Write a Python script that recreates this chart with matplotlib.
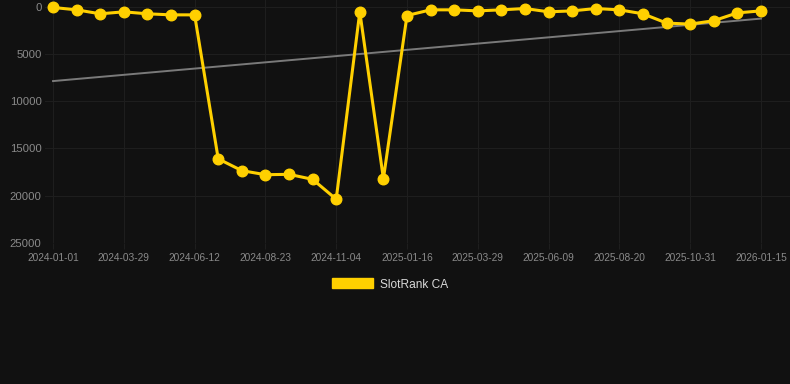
import numpy as np
import matplotlib
matplotlib.use("Agg")
import matplotlib.pyplot as plt
from matplotlib.patches import Patch

# ---- data ----
rank_values = [100, 350, 770, 560, 770, 880, 880, 16100, 17350, 17780, 17740,
               18270, 20370, 560, 18200, 950, 350, 350, 460, 350, 210, 560,
               460, 210, 350, 770, 1750, 1860, 1500, 670, 460]
tick_labels = ["2024-01-01", "2024-03-29", "2024-06-12", "2024-08-23",
               "2024-11-04", "2025-01-16", "2025-03-29", "2025-06-09",
               "2025-08-20", "2025-10-31", "2026-01-15"]
y_ticks = [0, 5000, 10000, 15000, 20000, 25000]
series_name = "SlotRank CA"

# ---- style ----
BG = "#111111"
GRID = "#1e1e1e"
GOLD = "#FFD000"
TICK_COLOR = "#8a8a8a"
plt.rcParams['font.family'] = ['Liberation Sans', 'DejaVu Sans']

fig = plt.figure(figsize=(7.9, 3.84), dpi=100, facecolor=BG)
ax = fig.add_axes([45 / 790, 141 / 384, 745 / 790, 243 / 384])
ax.set_facecolor(BG)

x = np.arange(len(rank_values))
y = np.array(rank_values, dtype=float)

# trend line (linear regression)
slope, intercept = np.polyfit(x, y, 1)
ax.plot(x, slope * x + intercept, color="#7a7a7a", lw=1.4, zorder=2)

ax.plot(x, y, color=GOLD, lw=2.2, marker="o", markersize=7.6,
        markerfacecolor=GOLD, markeredgecolor=GOLD, zorder=3,
        solid_joinstyle="miter")

tick_pos = x[::3]
ax.set_xticks(tick_pos)
ax.set_xticklabels(tick_labels)
ax.set_yticks(y_ticks)
ax.set_yticklabels([str(v) for v in y_ticks])

ax.set_xlim(-0.34, 31.23)
ax.set_ylim(25000, -690)

ax.grid(True, color=GRID, lw=0.8)
for s in ax.spines.values():
    s.set_visible(False)

ax.tick_params(axis="x", colors=GRID, length=4.5, width=0.8, pad=3,
               labelcolor=TICK_COLOR, labelsize=7.3)
ax.tick_params(axis="y", length=0, pad=2.5, labelcolor=TICK_COLOR,
               labelsize=8.2)

handle = Patch(facecolor=GOLD, edgecolor=GOLD, label=series_name)
leg = fig.legend(handles=[handle], loc="center",
                 bbox_to_anchor=(390 / 790, 1 - 284.5 / 384),
                 frameon=False, fontsize=8.6, handlelength=3.4,
                 handleheight=0.9, handletextpad=0.55,
                 labelcolor="#d8d8d8")

fig.savefig("out.png", dpi=100, facecolor=BG)
